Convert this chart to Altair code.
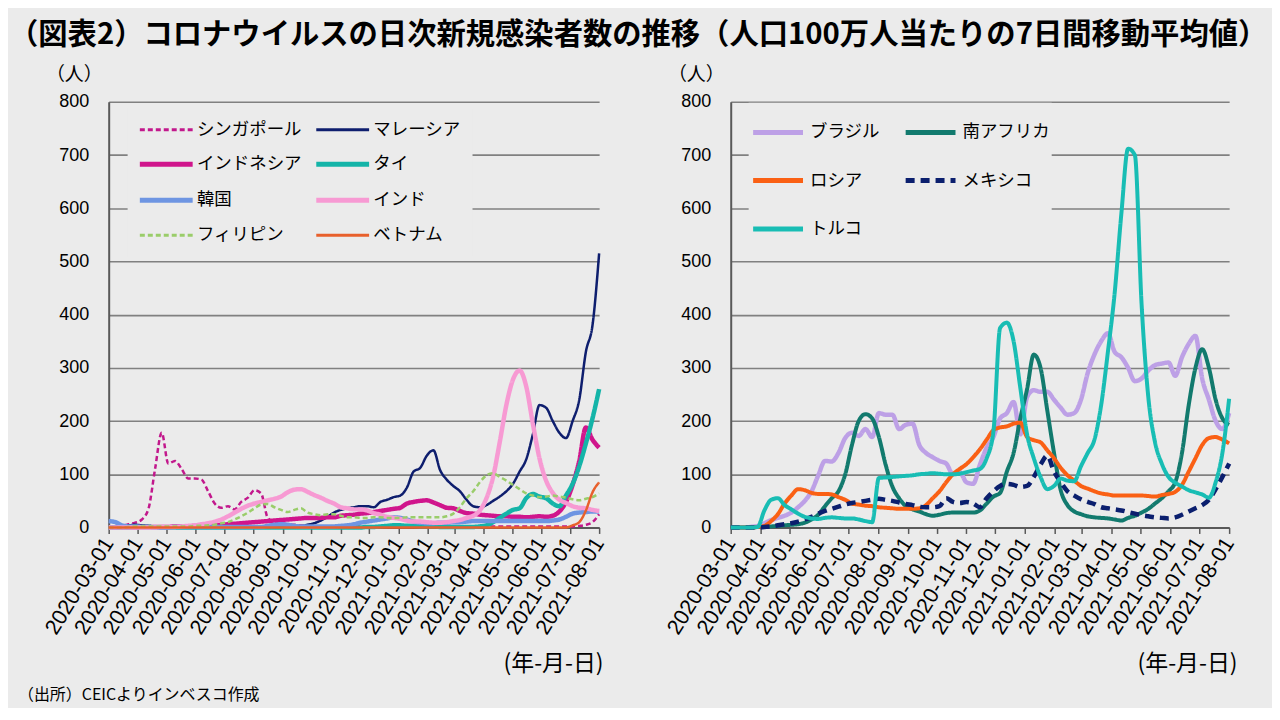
import altair as alt
import pandas as pd

# ---------------- data ----------------
weeks = pd.date_range("2020-03-01", periods=75, freq="7D").strftime("%Y-%m-%d").tolist()

tick_labels = ["2020-03-01", "2020-04-01", "2020-05-01", "2020-06-01", "2020-07-01",
               "2020-08-01", "2020-09-01", "2020-10-01", "2020-11-01", "2020-12-01",
               "2021-01-01", "2021-02-01", "2021-03-01", "2021-04-01", "2021-05-01",
               "2021-06-01", "2021-07-01", "2021-08-01"]

title_text = "（図表2）コロナウイルスの日次新規感染者数の推移（人口100万人当たりの7日間移動平均値）"
footer_text = "（出所）CEICよりインベスコ作成"
y_unit = "（人）"
x_unit = "(年-月-日)"

# left panel
left_names = ["シンガポール", "マレーシア", "インドネシア", "タイ", "韓国", "インド", "フィリピン", "ベトナム"]
left_colors = ["#C2188C", "#0E1E6E", "#D0158C", "#14B4A8", "#6E95E2", "#F79AD3", "#9ACD6A", "#E8602C"]
left_widths = [2.5, 2.5, 4.5, 4.5, 4.5, 4.5, 2.5, 2.5]
left_dashes = [[5, 3], [1, 0], [1, 0], [1, 0], [1, 0], [1, 0], [5, 3], [1, 0]]

singapore = [0, 1, 3, 6, 9, 15, 35, 110, 178, 120,
             125, 110, 92, 92, 90, 68, 45, 37, 40, 34,
             48, 56, 70, 64, 18, 10, 8, 6, 5, 4,
             3, 3, 2, 2, 2, 2, 2, 2, 2, 2,
             2, 2, 2, 2, 2, 2, 2, 2, 2, 2,
             2, 2, 2, 2, 2, 2, 2, 2, 2, 2,
             2, 2, 2, 2, 2, 2, 2, 2, 2, 2,
             2, 3, 5, 10, 25]
malaysia = [0, 1, 3, 4, 5, 4, 3, 2, 2, 1,
            1, 1, 1, 1, 0, 0, 0, 0, 0, 0,
            0, 0, 0, 0, 0, 0, 0, 1, 1, 2,
            5, 8, 13, 20, 28, 33, 36, 38, 40, 40,
            38, 48, 52, 57, 60, 75, 105, 112, 135, 145,
            108, 90, 78, 68, 52, 40, 38, 42, 50, 58,
            68, 82, 105, 128, 175, 230, 225, 200, 178, 168,
            200, 240, 330, 380, 515]
indonesia = [0, 0, 0, 0, 0, 1, 1, 1, 1, 1,
             2, 2, 2, 3, 3, 4, 4, 5, 6, 7,
             8, 9, 10, 11, 12, 13, 14, 15, 16, 17,
             18, 18, 18, 19, 19, 22, 23, 24, 26, 27,
             29, 31, 33, 35, 37, 45, 48, 50, 51, 47,
             42, 37, 36, 31, 27, 26, 24, 23, 22, 21,
             21, 20, 20, 19, 20, 21, 20, 22, 30, 48,
             80, 125, 188, 165, 150]
thailand = [0, 0, 0, 0, 1, 1, 1, 0, 0, 0,
            0, 0, 0, 0, 0, 0, 0, 0, 0, 0,
            0, 0, 0, 0, 0, 0, 0, 0, 0, 0,
            0, 0, 0, 0, 0, 0, 0, 0, 0, 1,
            1, 2, 3, 4, 4, 3, 3, 2, 2, 2,
            1, 1, 1, 1, 1, 1, 2, 4, 10, 18,
            26, 33, 36, 55, 63, 58, 55, 45, 40, 60,
            82, 115, 158, 205, 260]
korea = [12, 10, 4, 2, 2, 1, 1, 0, 0, 0,
         1, 1, 1, 1, 1, 1, 1, 1, 1, 1,
         1, 1, 1, 1, 3, 5, 6, 5, 3, 2,
         2, 2, 2, 2, 2, 3, 4, 6, 9, 11,
         13, 15, 17, 19, 18, 15, 11, 9, 8, 8,
         9, 9, 10, 10, 11, 12, 12, 12, 12, 12,
         12, 12, 12, 12, 12, 12, 12, 13, 15, 20,
         26, 28, 29, 30, 30]
india = [0, 0, 0, 0, 0, 0, 0, 0, 1, 1,
         1, 2, 3, 4, 6, 8, 11, 15, 21, 28,
         35, 41, 45, 48, 51, 54, 58, 66, 71, 72,
         67, 61, 56, 50, 45, 38, 36, 34, 34, 32,
         27, 24, 20, 18, 16, 13, 11, 11, 10, 9,
         9, 10, 12, 14, 18, 22, 32, 55, 95, 160,
         230, 278, 295, 265, 195, 130, 88, 65, 52, 46,
         40, 37, 36, 33, 31]
philippines = [0, 0, 0, 1, 2, 2, 2, 2, 2, 2,
               2, 2, 2, 3, 3, 4, 5, 8, 10, 15,
               21, 28, 36, 43, 44, 38, 33, 29, 33, 36,
               28, 25, 23, 25, 25, 22, 19, 19, 18, 18,
               19, 19, 18, 18, 18, 19, 19, 19, 19, 19,
               19, 21, 26, 38, 55, 68, 85, 98, 102, 95,
               88, 80, 72, 64, 60, 57, 58, 60, 58, 56,
               53, 51, 54, 57, 64]
vietnam = [0, 0, 0, 0, 0, 0, 0, 0, 0, 0,
           0, 0, 0, 0, 0, 0, 0, 0, 0, 0,
           0, 0, 0, 0, 0, 0, 0, 0, 0, 0,
           0, 0, 0, 0, 0, 0, 0, 0, 0, 0,
           0, 0, 0, 0, 0, 0, 0, 0, 0, 0,
           0, 0, 0, 0, 0, 0, 0, 0, 0, 0,
           0, 0, 0, 0, 0, 0, 0, 0, 0, 0,
           4, 10, 32, 66, 85]
left_series = [singapore, malaysia, indonesia, thailand, korea, india, philippines, vietnam]

# right panel
right_names = ["ブラジル", "南アフリカ", "ロシア", "メキシコ", "トルコ"]
right_colors = ["#BDA0E6", "#127A6E", "#FA6014", "#0B1F6E", "#18BDB4"]
right_widths = [4.5, 4, 4, 4.5, 4]
right_dashes = [[1, 0], [1, 0], [1, 0], [9, 6], [1, 0]]

brazil = [0, 0, 0, 1, 3, 8, 14, 18, 22, 28,
          38, 50, 68, 98, 125, 124, 140, 168, 178, 172,
          185, 170, 215, 212, 212, 185, 193, 195, 155, 140,
          132, 125, 120, 100, 104, 85, 82, 118, 150, 170,
          205, 215, 236, 175, 245, 258, 255, 255, 240, 225,
          212, 215, 240, 290, 325, 350, 365, 330, 320, 300,
          275, 280, 295, 305, 308, 310, 285, 320, 345, 360,
          280, 240, 200, 185, 215]
south_africa = [0, 0, 0, 0, 1, 1, 2, 3, 4, 5,
                6, 9, 15, 24, 40, 55, 68, 100, 155, 200,
                213, 205, 170, 118, 77, 55, 40, 34, 30, 25,
                22, 24, 27, 28, 28, 28, 28, 32, 45, 58,
                65, 105, 140, 205, 260, 325, 300, 220, 140, 70,
                42, 30, 25, 21, 19, 18, 17, 15, 13, 18,
                22, 28, 35, 45, 55, 68, 85, 140, 230, 300,
                335, 300, 240, 205, 193]
russia = [0, 0, 0, 0, 1, 3, 12, 25, 45, 60,
          72, 70, 65, 63, 63, 62, 57, 52, 45, 43,
          41, 40, 38, 37, 36, 35, 35, 35, 36, 42,
          55, 68, 85, 100, 110, 119, 132, 147, 165, 183,
          188, 190, 195, 197, 170, 164, 160, 145, 130, 112,
          98, 88, 78, 73, 68, 64, 62, 60, 60, 60,
          60, 60, 59, 58, 61, 63, 67, 80, 105, 130,
          155, 168, 170, 165, 158]
mexico = [0, 0, 0, 0, 0, 1, 2, 4, 6, 8,
          11, 15, 20, 26, 31, 35, 39, 43, 46, 48,
          50, 52, 54, 52, 50, 47, 44, 42, 39, 38,
          38, 40, 55, 48, 46, 48, 45, 38, 55, 68,
          78, 82, 80, 76, 78, 95, 118, 135, 105, 85,
          68, 60, 53, 48, 44, 38, 36, 34, 32, 29,
          26, 23, 21, 19, 18, 17, 19, 24, 30, 36,
          42, 52, 72, 95, 120]
turkey = [0, 0, 0, 0, 1, 32, 52, 55, 42, 34,
          26, 20, 17, 16, 18, 19, 18, 17, 17, 15,
          12, 10, 93, 94, 95, 96, 97, 98, 100, 101,
          102, 101, 100, 100, 101, 104, 107, 110, 130, 180,
          375, 385, 350, 262, 175, 130, 95, 72, 78, 92,
          88, 87, 115, 140, 165, 230, 330, 440, 590, 712,
          700, 420, 245, 160, 120, 95, 84, 77, 70, 66,
          62, 56, 85, 140, 242]
right_series = [brazil, south_africa, russia, mexico, turkey]

y_ticks = [0, 100, 200, 300, 400, 500, 600, 700, 800]

# ---------------- styling ----------------
JP = "Noto Sans CJK JP"
NUM = "Liberation Sans"
BG = "#EBEBEB"


def utc_dt(s):
    y, m, d = (int(p) for p in s.split("-"))
    return alt.DateTime(year=y, month=m, date=d, utc=True)


def long_df(names, widths, series):
    rows = []
    for i, (n, w, vals) in enumerate(zip(names, widths, series)):
        for d, v in zip(weeks, vals):
            rows.append({"date": d, "country": n, "value": v, "sw": w, "ord": i})
    return pd.DataFrame(rows)


def panel(names, colors, widths, dashes, series, width, height, legend, xtitle_x, footer=False):
    df = long_df(names, widths, series)
    x = alt.X(
        "date:T",
        scale=alt.Scale(type="utc", domain=[utc_dt(tick_labels[0]), utc_dt(tick_labels[-1])]),
        axis=alt.Axis(
            values=[utc_dt(t) for t in tick_labels],
            labelExpr="utcFormat(datum.value, '%Y-%m-%d')",
            labelAngle=302, labelFont=NUM, labelFontSize=21.5, labelColor="#000000",
            labelPadding=6, labelOverlap=False, labelFlush=False,
            domainColor="#595959", domainWidth=2,
            tickColor="#595959", tickWidth=1.5, tickSize=6,
            grid=False,
            title=x_unit, titleFont=JP, titleFontSize=23, titleFontWeight="normal",
            titleColor="#000000", titleAlign="right", titleBaseline="middle",
            titleX=xtitle_x, titleY=136,
        ),
    )
    y = alt.Y(
        "value:Q",
        scale=alt.Scale(domain=[0, 800], nice=False),
        axis=alt.Axis(
            values=y_ticks, labelFont=NUM, labelFontSize=18, labelColor="#000000",
            labelPadding=20, ticks=False,
            domainColor="#595959", domainWidth=2,
            grid=True, gridColor="#808080", gridWidth=1.6,
            title=y_unit, titleFont=JP, titleFontSize=19, titleFontWeight="normal",
            titleColor="#000000", titleAngle=0, titleAlign="center", titleBaseline="middle",
            titleX=-35, titleY=-27,
        ),
    )
    lines = alt.Chart(df).mark_line(interpolate="monotone", strokeJoin="round").encode(
        x=x,
        y=y,
        color=alt.Color("country:N", scale=alt.Scale(domain=names, range=colors), legend=legend),
        strokeDash=alt.StrokeDash("country:N", scale=alt.Scale(domain=names, range=dashes), legend=legend),
        strokeWidth=alt.StrokeWidth("sw:Q", scale=None),
        order=alt.Order("ord:Q"),
    )
    layers = [lines]
    if footer:
        fdf = pd.DataFrame({"t": [footer_text]})
        layers.append(
            alt.Chart(fdf).mark_text(align="left", baseline="middle", font=JP, fontSize=16,
                                     color="#000000").encode(
                text="t:N", x=alt.value(-91), y=alt.value(595))
        )
    return alt.layer(*layers).properties(width=width, height=height)


thick_left = "['インドネシア','タイ','韓国','インド']"
left_legend = alt.Legend(
    title=None, orient="none", legendX=19, legendY=7, columns=2, direction="horizontal",
    symbolType="stroke", symbolSize=2809, symbolOffset=18,
    symbolStrokeWidth=alt.ExprRef(expr=f"indexof({thick_left}, datum.value) >= 0 ? 5 : 3"),
    labelFont=JP, labelFontSize=17.5, labelColor="#000000", labelOffset=22, labelLimit=0,
    rowPadding=15, columnPadding=4, padding=12, fillColor=BG, gridAlign="each",
)
right_legend = alt.Legend(
    title=None, orient="none", legendX=18, legendY=1, columns=2, direction="horizontal",
    symbolType="stroke", symbolSize=2500, symbolStrokeWidth=5,
    labelFont=JP, labelFontSize=17.5, labelColor="#000000", labelOffset=4.5, labelLimit=0,
    rowPadding=10.5, columnPadding=15, padding=2, fillColor=BG, gridAlign="each",
)

left = panel(left_names, left_colors, left_widths, left_dashes, left_series,
             492, 427, left_legend, 496, footer=True)
right = panel(right_names, right_colors, right_widths, right_dashes, right_series,
              500, 427, right_legend, 508)

chart = (
    alt.hconcat(left, right, spacing=55)
    .resolve_scale(x="independent", y="independent", color="independent", strokeDash="independent")
    .resolve_legend(color="independent", strokeDash="independent")
    .properties(
        title=alt.TitleParams(title_text, anchor="start", font=JP, fontSize=29.4, fontWeight="bold",
                              color="#000000", dx=-9, offset=16),
        padding={"left": 1, "top": 10, "right": 4, "bottom": 4},
    )
    .configure(background=BG)
    .configure_view(stroke=None)
)

chart.save("out.html", embed_options={"renderer": "svg", "actions": False})
